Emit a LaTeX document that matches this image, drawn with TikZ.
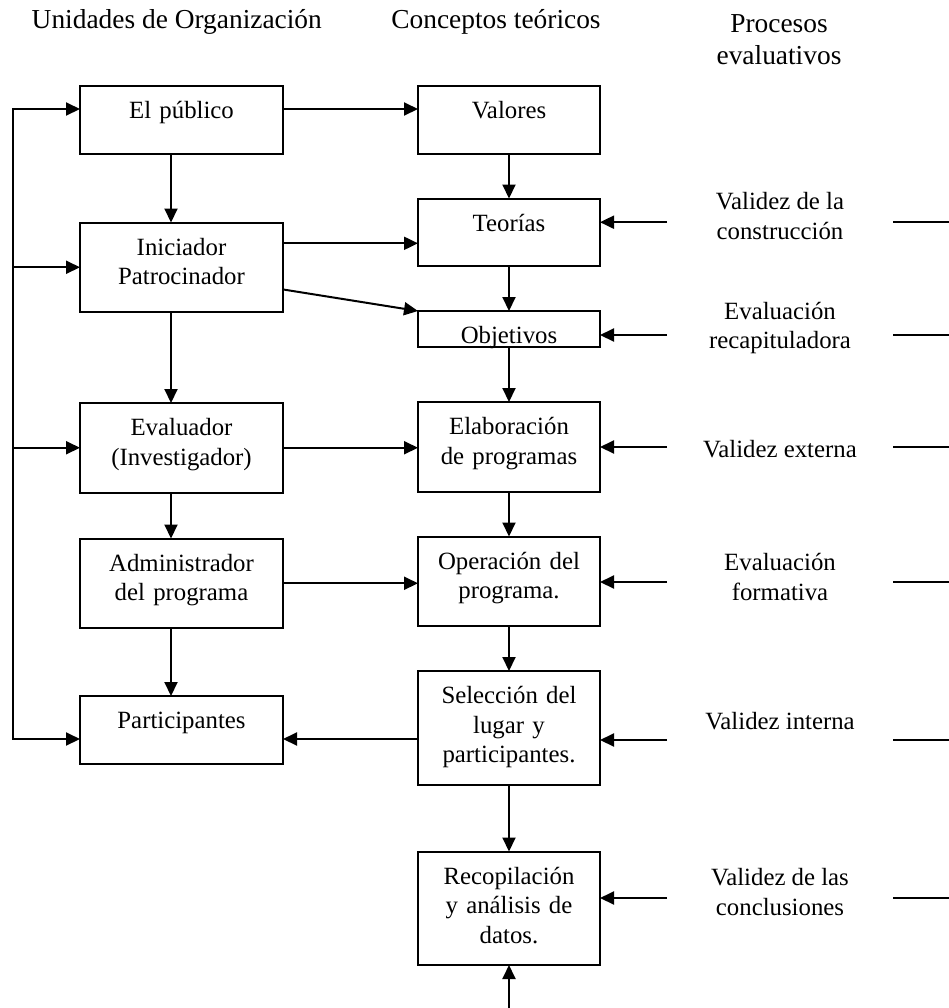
\documentclass[tikz,border=0pt]{standalone}
\usepackage{fontspec}
\setmainfont{Liberation Serif}
\usetikzlibrary{arrows.meta, positioning}

\begin{document}
\begin{tikzpicture}
  [
    line width          = 1pt,
    node distance       = 22.5pt,
    every node/.style   = {font=\fontsize{12.4}{14.75}\selectfont},
    link/.style         = {-{Triangle[length=7pt, width=6.5pt]}},
    heading/.style      = {font=\fontsize{13.7}{16}\selectfont, align=center},
    unitbox/.style      = {draw, align=center, inner ysep=0pt, outer sep=0pt, text height=16.25pt},
    orgunit/.style      = {unitbox, text width=95pt, inner xsep=3.25pt},
    concept/.style      = {unitbox, text width=85pt, inner xsep=3pt},
    oneline/.style      = {text depth=17.5pt},
    twolines/.style     = {text depth=28.5pt},
    threelines/.style   = {text depth=40.5pt},
    process/.style      = {align=center, minimum width=113pt, minimum height=30pt, inner sep=0pt, outer sep=0pt}
  ]

  \useasboundingbox (0,0) rectangle (474.5pt,-504pt);

  % column headings
  \node[heading] (hunits)     at (88.4pt,-11pt)     {Unidades de Organización};
  \node[heading] (hconcepts)  at (248pt,-11pt)      {Conceptos teóricos};
  \node[heading] (hprocesses) at (389.5pt,-19.75pt) {Procesos\\evaluativos};

  % organisation units
  \node[orgunit, oneline, anchor=north] (publico) at (90.75pt,-43pt) {El público};
  \node[orgunit, twolines, below=34.5pt of publico]      (iniciador)     {Iniciador\\Patrocinador};
  \node[orgunit, twolines, below=45.5pt of iniciador]    (evaluador)     {Evaluador\\(Investigador)};
  \node[orgunit, twolines, below=23pt of evaluador]      (administrador) {Administrador\\del programa};
  \node[orgunit, oneline, below=34pt of administrador]   (participantes) {Participantes};

  % theoretical concepts
  \node[concept, oneline, right=67.5pt of publico]       (valores)      {Valores};
  \node[concept, oneline, below=of valores]              (teorias)      {Teorías};
  \node[concept, text depth=1.75pt, below=of teorias]    (objetivos)    {Objetivos};
  \node[concept, twolines, below=27.5pt of objetivos]    (elaboracion)  {Elaboración\\de programas};
  \node[concept, twolines, below=of elaboracion]         (operacion)    {Operación del\\programa.};
  \node[concept, threelines, below=of operacion]         (seleccion)    {Selección del\\lugar y\\participantes.};
  \node[concept, threelines, below=33.5pt of seleccion]  (recopilacion) {Recopilación\\y análisis de\\datos.};

  % evaluation processes
  \node[process] (construccion)   at (390pt,-108pt)   {Validez de la\\construcción};
  \node[process] (recapituladora) at (390pt,-164pt)   {Evaluación\\recapituladora};
  \node[process] (externa)        at (390pt,-224.5pt) {Validez externa};
  \node[process] (formativa)      at (390pt,-288.5pt) {Evaluación\\formativa};
  \node[process] (interna)        at (390pt,-360.5pt) {Validez interna};
  \node[process] (conclusiones)   at (390pt,-446pt)   {Validez de las\\conclusiones};

  % loose ends
  \coordinate (bustop)    at (6.5pt,-54.5pt);
  \coordinate (busbottom) at (6.5pt,-369.5pt);
  \coordinate (toteorias) at (0,-121.65pt);
  \coordinate (feed)      at (recopilacion.south |- 0,-504pt);
  \coordinate (in1) at (474.5pt,-111.1pt);
  \coordinate (in2) at (474.5pt,-167.5pt);
  \coordinate (in3) at (474.5pt,-223.5pt);
  \coordinate (in4) at (474.5pt,-291pt);
  \coordinate (in5) at (474.5pt,-370pt);
  \coordinate (in6) at (474.5pt,-449pt);

  % left bus
  \draw[link] (busbottom) -- (bustop) -- (publico.west |- bustop);
  \draw[link] (bustop |- iniciador.west) -- (iniciador.west);
  \draw[link] (bustop |- evaluador.west) -- (busbottom) -- (participantes.west |- busbottom);
  \draw[link] (bustop |- evaluador.west) -- (evaluador.west);

  % down the organisation column
  \draw[link] ([xshift=-5.25pt]publico.south)       -- ([xshift=-5.25pt]iniciador.north);
  \draw[link] ([xshift=-5.25pt]iniciador.south)     -- ([xshift=-5.25pt]evaluador.north);
  \draw[link] ([xshift=-5.25pt]evaluador.south)     -- ([xshift=-5.25pt]administrador.north);
  \draw[link] ([xshift=-5.25pt]administrador.south) -- ([xshift=-5.25pt]participantes.north);

  % down the concept column
  \draw[link] (valores)      -- (teorias);
  \draw[link] (teorias)      -- (objetivos);
  \draw[link] (objetivos)    -- (elaboracion);
  \draw[link] (elaboracion)  -- (operacion);
  \draw[link] (operacion)    -- (seleccion);
  \draw[link] (seleccion)    -- (recopilacion);
  \draw[link] (feed)         -- (recopilacion.south);

  % across the columns
  \draw[link] (publico.east |- bustop)      -- (valores.west |- bustop);
  \draw[link] (iniciador.east |- toteorias) -- (teorias.west |- toteorias);
  \draw[link] ([yshift=-11.1pt]iniciador.east) -- (objetivos.north west);
  \draw[link] (evaluador.east)     -- (evaluador.east -| elaboracion.west);
  \draw[link] (administrador.east) -- (administrador.east -| operacion.west);
  \draw[link] (seleccion.west |- busbottom) -- (participantes.east |- busbottom);

  % processes into the concepts
  \draw[link] (construccion.west |- in1)   -- (teorias.east |- in1);
  \draw[link] (recapituladora.west |- in2) -- (objetivos.east |- in2);
  \draw[link] (externa.west |- in3)        -- (elaboracion.east |- in3);
  \draw[link] (formativa.west |- in4)      -- (operacion.east |- in4);
  \draw[link] (interna.west |- in5)        -- (seleccion.east |- in5);
  \draw[link] (conclusiones.west |- in6)   -- (recopilacion.east |- in6);
  \draw (in1) -- (construccion.east |- in1);
  \draw (in2) -- (recapituladora.east |- in2);
  \draw (in3) -- (externa.east |- in3);
  \draw (in4) -- (formativa.east |- in4);
  \draw (in5) -- (interna.east |- in5);
  \draw (in6) -- (conclusiones.east |- in6);
\end{tikzpicture}
\end{document}
